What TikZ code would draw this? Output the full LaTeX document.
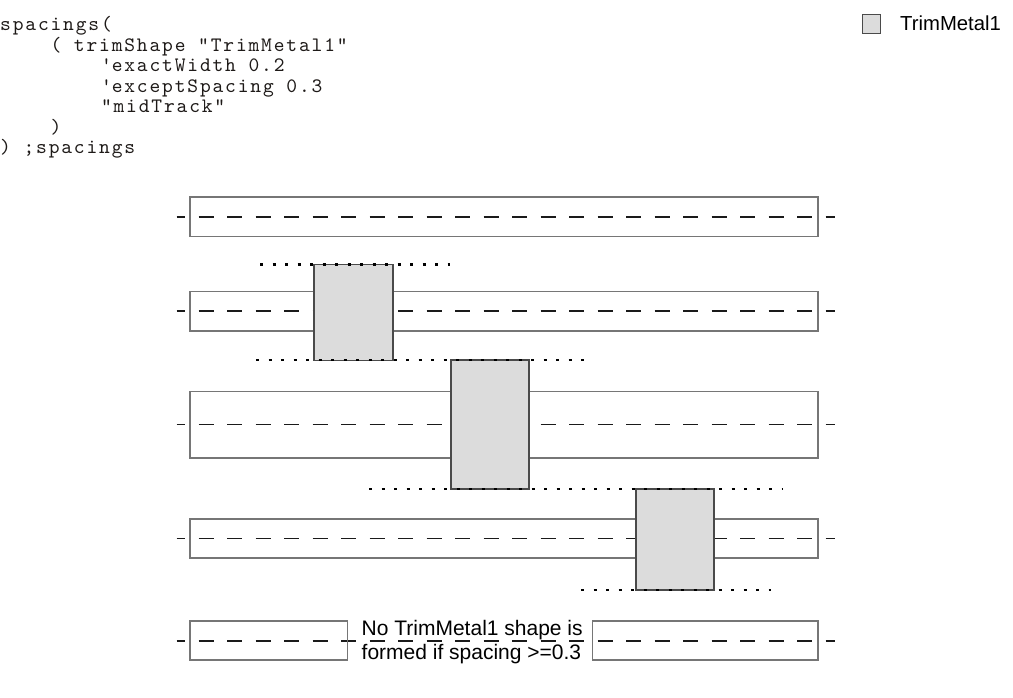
\documentclass[tikz,border=0pt]{standalone}
\usepackage{fontspec}
\setmainfont{Liberation Sans}
\newfontfamily\codefont{lmmono10-regular.otf}[LetterSpace=9]
\definecolor{edge}{HTML}{767676}
\definecolor{trimfill}{HTML}{DCDCDC}
\definecolor{trimedge}{HTML}{4A4A4A}
\definecolor{dashcol}{HTML}{1A1A1A}
\definecolor{codecol}{HTML}{1E1A18}
\begin{document}
\begin{tikzpicture}[x=1pt,y=-1pt,
  track/.style={draw=edge, line width=1.8pt},
  midline/.style={draw=dashcol, line width=1.8pt, dash pattern=on 15pt off 13.5pt, dash phase=6.7pt},
  trimbox/.style={draw=trimedge, fill=trimfill, line width=1.5pt, inner sep=0pt, outer sep=0pt, anchor=north west},
  dotline/.style={draw=black, line width=2.8pt, dash pattern=on 3pt off 9.5pt},
  code/.style={anchor=base west, inner sep=0pt, text=codecol, font=\codefont\fontsize{20.5}{24}\selectfont},
  label/.style={anchor=base west, inner sep=0pt, font=\fontsize{21}{24}\selectfont}]
\useasboundingbox (0,0) rectangle (1013,697);
% code listing
\node[code] (c1) at (0,30.5) {spacings(};
\node[code] (c2) at (50.4,51) {( trimShape "TrimMetal1"};
\node[code] (c3) at (100.8,71.5) {\textquotesingle exactWidth 0.2};
\node[code] (c4) at (100.8,92) {\textquotesingle exceptSpacing 0.3};
\node[code] (c5) at (100.8,112.5) {"midTrack"};
\node[code] (c6) at (50.4,133) {)};
\node[code] (c7) at (0,153.5) {) ;spacings};
% legend
\node[draw=trimedge, fill=trimfill, line width=1.2pt, inner sep=0pt, minimum width=18pt, minimum height=19pt, anchor=north west] (leg) at (862,14) {};
\node[anchor=base west, inner sep=0pt, font=\fontsize{20.3}{24}\selectfont] (legtext) at (900,30.7) {TrimMetal1};
% center lines
\coordinate (l1a) at (176.7,216.7); \coordinate (l1b) at (835,216.7);
\coordinate (l2a) at (176.7,311);   \coordinate (l2b) at (835,311);
\coordinate (l3a) at (176.7,424.5); \coordinate (l3b) at (835,424.5);
\coordinate (l4a) at (176.7,538.5); \coordinate (l4b) at (835,538.5);
\coordinate (l5a) at (176.7,641);   \coordinate (l5b) at (835,641);
\draw[midline] (l1a) -- (l1b);
\draw[midline] (l2a) -- (l2b);
\draw[midline] (l3a) -- (l3b);
\draw[midline] (l4a) -- (l4b);
\draw[midline] (l5a) -- (l5b);
% tracks
\draw[track] (190,197.3) rectangle (818,236.5);
\draw[track] (190,291.5) rectangle (818,331);
\draw[track] (190,391.5) rectangle (818,458);
\draw[track] (190,519) rectangle (818,558);
\draw[track] (190,621) rectangle (347.5,660);
\draw[track] (592.5,621) rectangle (818,660);
% trim shapes
\node[trimbox, minimum width=79pt, minimum height=96pt] (t1) at (314,264.3) {};
\node[trimbox, minimum width=78pt, minimum height=129pt] (t2) at (451,360) {};
\node[trimbox, minimum width=78pt, minimum height=101pt] (t3) at (636,489) {};
% spacing limits
\coordinate (d1a) at (260,264.3); \coordinate (d1b) at (450,264.3);
\coordinate (d2a) at (256,360);   \coordinate (d2b) at (589,360);
\coordinate (d3a) at (369,489);   \coordinate (d3b) at (782,489);
\coordinate (d4a) at (581,590);   \coordinate (d4b) at (771,590);
\draw[dotline] (d1a) -- (d1b);
\draw[dotline] (d2a) -- (d2b);
\draw[dotline] (d3a) -- (d3b);
\draw[dotline] (d4a) -- (d4b);
% note
\node[label] (n1) at (361.5,635) {No TrimMetal1 shape is};
\node[label] (n2) at (361.5,659) {formed if spacing >=0.3};
\end{tikzpicture}
\end{document}
